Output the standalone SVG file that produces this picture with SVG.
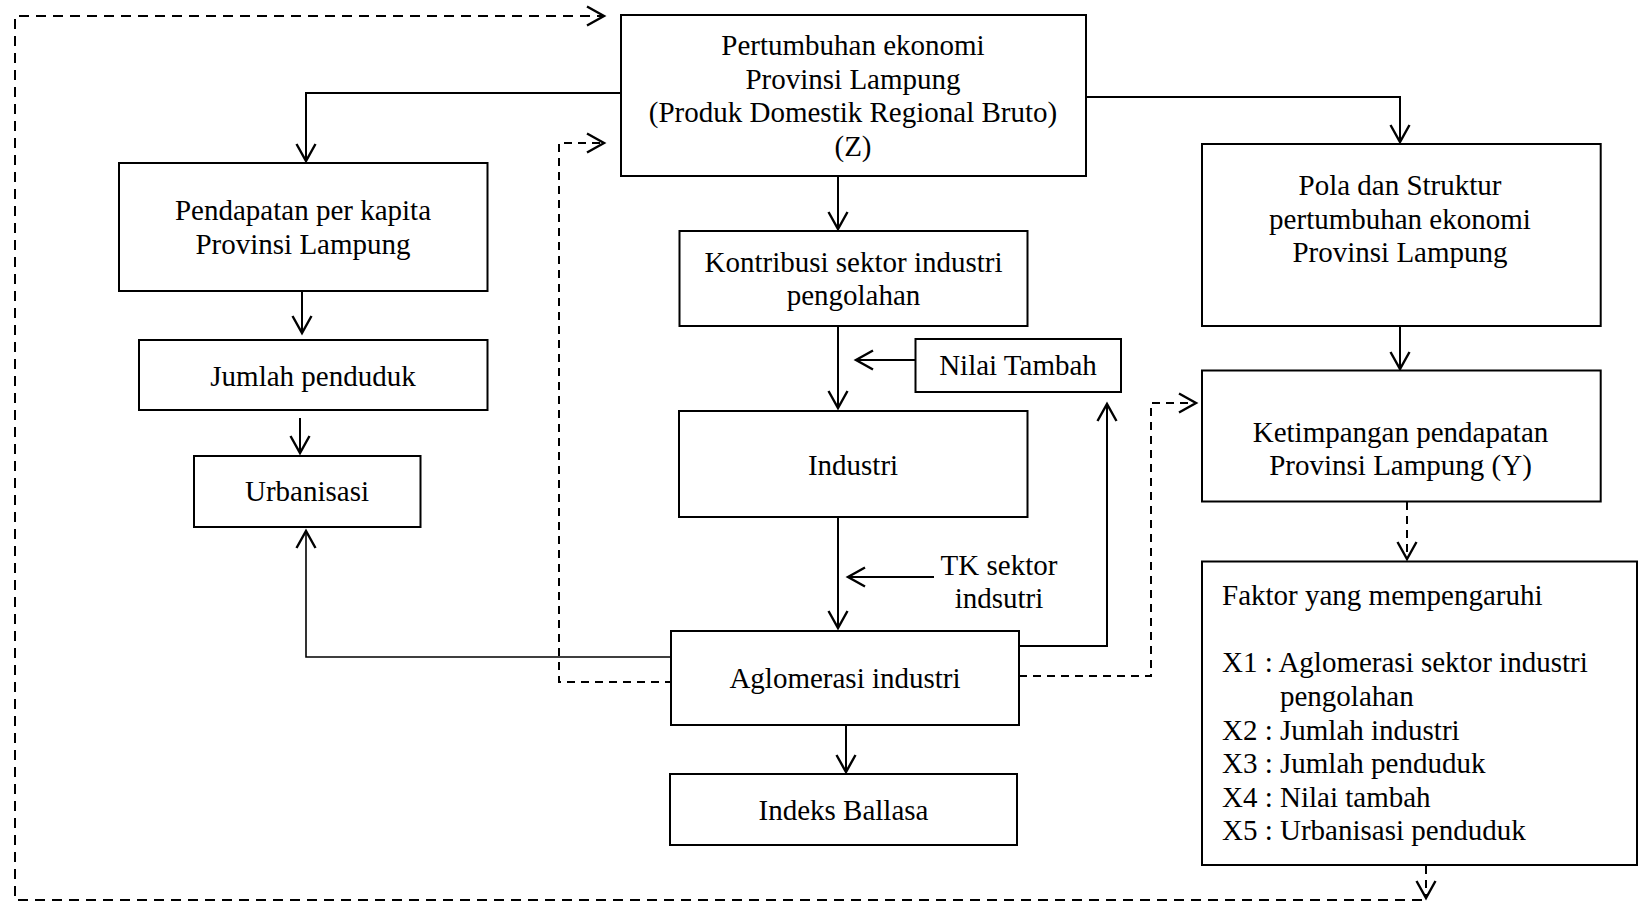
<svg xmlns="http://www.w3.org/2000/svg" width="1639" height="902" viewBox="0 0 1639 902">
<style>
  .box { fill: #fff; stroke: #000; stroke-width: 2; }
  .t { font-family: "Liberation Serif", "Times New Roman", serif; font-size: 29px; fill: #000; }
  .c { text-anchor: middle; }
  .ln { fill: none; stroke: #000; stroke-width: 2; }
  .dash { fill: none; stroke: #000; stroke-width: 2; stroke-dasharray: 8 6; }
</style>
<defs>
  <marker id="ah" viewBox="-20 -12 24 24" refX="0" refY="0" markerWidth="24" markerHeight="24" orient="auto" markerUnits="userSpaceOnUse">
    <path d="M-17,-9.5 L0,0 L-17,9.5" fill="none" stroke="#000" stroke-width="2.4"/>
  </marker>
</defs>

<g id="connectors">
  <path class="dash" d="M1422,900 L15,900 L15,16 L604,16" marker-end="url(#ah)" style="stroke-dasharray:10 7"/>
  <path class="dash" d="M1426,866 L1426,898" marker-end="url(#ah)"/>
  <path class="ln" d="M621,93 L306,93 L306,161" marker-end="url(#ah)"/>
  <path class="ln" d="M1086,97 L1400,97 L1400,142" marker-end="url(#ah)"/>
  <path class="ln" d="M838,176 L838,229" marker-end="url(#ah)"/>
  <path class="ln" d="M302,291 L302,333" marker-end="url(#ah)"/>
  <path class="ln" d="M300,418 L300,453" marker-end="url(#ah)"/>
  <path class="ln" d="M671,657 L306,657 L306,531" marker-end="url(#ah)" style="stroke-width:1.6"/>
  <path class="dash" d="M673,682 L559,682 L559,143 L604,143" marker-end="url(#ah)"/>
  <path class="ln" d="M838,326 L838,408" marker-end="url(#ah)"/>
  <path class="ln" d="M915,360 L856,360" marker-end="url(#ah)"/>
  <path class="ln" d="M838,517 L838,628" marker-end="url(#ah)"/>
  <path class="ln" d="M934,577 L848,577" marker-end="url(#ah)"/>
  <path class="ln" d="M1019,646 L1107,646 L1107,404" marker-end="url(#ah)"/>
  <path class="dash" d="M1019,676 L1151,676 L1151,403 L1196,403" marker-end="url(#ah)"/>
  <path class="ln" d="M846,725 L846,772" marker-end="url(#ah)"/>
  <path class="ln" d="M1400,326 L1400,369" marker-end="url(#ah)"/>
  <path class="dash" d="M1407,502 L1407,559" marker-end="url(#ah)"/>
</g>

<g id="node-pertumbuhan">
  <rect class="box" x="621" y="15" width="465" height="161"/>
  <text class="t c" x="853" y="55">Pertumbuhan ekonomi</text>
  <text class="t c" x="853" y="88.5">Provinsi Lampung</text>
  <text class="t c" x="853" y="122">(Produk Domestik Regional Bruto)</text>
  <text class="t c" x="853" y="155.5">(Z)</text>
</g>

<g id="node-pendapatan">
  <rect class="box" x="119" y="163" width="368.5" height="128"/>
  <text class="t c" x="303" y="220">Pendapatan per kapita</text>
  <text class="t c" x="303" y="254">Provinsi Lampung</text>
</g>

<g id="node-jumlah">
  <rect class="box" x="139" y="340" width="348.5" height="70"/>
  <text class="t c" x="313" y="386">Jumlah penduduk</text>
</g>

<g id="node-urbanisasi">
  <rect class="box" x="194" y="456" width="226.5" height="71"/>
  <text class="t c" x="307" y="501">Urbanisasi</text>
</g>

<g id="node-kontribusi">
  <rect class="box" x="679.5" y="231" width="348" height="95"/>
  <text class="t c" x="853.5" y="272">Kontribusi sektor industri</text>
  <text class="t c" x="853.5" y="305">pengolahan</text>
</g>

<g id="node-nilai">
  <rect class="box" x="915.5" y="339" width="205.5" height="53"/>
  <text class="t c" x="1018" y="375">Nilai Tambah</text>
</g>

<g id="node-industri">
  <rect class="box" x="679" y="411" width="348.5" height="106"/>
  <text class="t c" x="853" y="475">Industri</text>
</g>

<g id="node-tk">
  <text class="t c" x="999" y="575">TK sektor</text>
  <text class="t c" x="999" y="608">indsutri</text>
</g>

<g id="node-aglomerasi">
  <rect class="box" x="671" y="631" width="348" height="94"/>
  <text class="t c" x="845" y="688">Aglomerasi industri</text>
</g>

<g id="node-indeks">
  <rect class="box" x="670" y="774" width="347" height="71"/>
  <text class="t c" x="843.5" y="820">Indeks Ballasa</text>
</g>

<g id="node-pola">
  <rect class="box" x="1202" y="144" width="398.7" height="182"/>
  <text class="t c" x="1400" y="195">Pola dan Struktur</text>
  <text class="t c" x="1400" y="228.5">pertumbuhan ekonomi</text>
  <text class="t c" x="1400" y="262">Provinsi Lampung</text>
</g>

<g id="node-ketimpangan">
  <rect class="box" x="1202" y="370.5" width="398.7" height="131"/>
  <text class="t c" x="1400.5" y="442">Ketimpangan pendapatan</text>
  <text class="t c" x="1400.5" y="475">Provinsi Lampung (Y)</text>
</g>

<g id="node-faktor">
  <rect class="box" x="1202" y="561.5" width="435" height="303.5"/>
  <text class="t" x="1222" y="605">Faktor yang mempengaruhi</text>
  <text class="t" x="1222" y="672">X1 : Aglomerasi sektor industri</text>
  <text class="t" x="1280" y="706">pengolahan</text>
  <text class="t" x="1222" y="740">X2 : Jumlah industri</text>
  <text class="t" x="1222" y="773">X3 : Jumlah penduduk</text>
  <text class="t" x="1222" y="807">X4 : Nilai tambah</text>
  <text class="t" x="1222" y="840">X5 : Urbanisasi penduduk</text>
</g>
</svg>
